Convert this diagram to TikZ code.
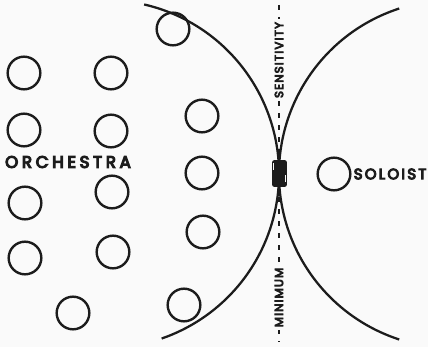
\documentclass[tikz,border=0pt]{standalone}
\usepackage{fontspec}
\newfontfamily\labelfont{Poppins}[FakeBold=7]
\usetikzlibrary{positioning}
\definecolor{inkgray}{RGB}{28, 28, 28}
\definecolor{paper}{RGB}{250, 250, 250}
\tikzset{
    seat/.style={
        circle,
        draw=inkgray,
        line width=1.8pt,
        minimum size=24.5pt,
        inner sep=0pt
    },
    pickup/.style={
        rectangle,
        rounded corners=1.5pt,
        fill=inkgray,
        minimum width=11pt,
        minimum height=20pt,
        inner sep=0pt
    },
    fieldline/.style={
        draw=inkgray,
        line width=1.7pt
    },
    % dashed axis and its words
    axisline/.style={
        draw=inkgray,
        line width=1.7pt,
        dash pattern=on 3.8pt off 5.2pt
    },
    axislabel/.style={
        rotate=90,
        fill=paper,
        inner xsep=2pt,
        inner ysep=1pt,
        text=inkgray,
        font=\labelfont\fontsize{8.8}{10}\selectfont\addfontfeatures{LetterSpace=10}
    },
    grouplabel/.style={
        text=inkgray,
        inner sep=0pt
    }
}

\begin{document}
\begin{tikzpicture}[x=0.75pt, y=0.75pt]
\fill[paper] (0,0) rectangle (428,347);
\useasboundingbox (0,0) rectangle (428,347);

% axis of minimum sensitivity
\coordinate (axtop) at (279,342);
\coordinate (axbot) at (279,5);
\draw[axisline] (axtop) -- (axbot);
\node[axislabel] (sens) at (279,287) {SENSITIVITY};
\node[axislabel] (mini) at (279,49.5) {MINIMUM};

% pick-up pattern
\draw[fieldline] (105,173) ++(77:174) arc[start angle=77, end angle=-71, radius=174];
\draw[fieldline] (453,173) ++(108:174) arc[start angle=108, end angle=252, radius=174];

% microphone
\node[pickup] (mic) at (279.5,173.5) {};
\draw[paper, line width=0.8pt] ([xshift=1.2pt, yshift=-2.3pt]mic.north west) -- ++(0,-5.2pt);
\draw[paper, line width=0.8pt] ([xshift=-1.5pt, yshift=3.7pt]mic.south east) -- ++(0,5.2pt);

% orchestra
\node[seat] (ol1) at (24,274) {};
\node[seat] (ol2) at (24,217) {};
\node[seat] (ol3) at (25,144) {};
\node[seat] (ol4) at (25,89) {};
\node[seat] (om1) at (111,274) {};
\node[seat] (om2) at (111,216) {};
\node[seat] (om3) at (112,155) {};
\node[seat] (om4) at (113,95) {};
\node[seat] (ob) at (73,34) {};
\node[seat] (or0) at (173,318) {};
\node[seat] (or1) at (202,231) {};
\node[seat] (or2) at (202,174) {};
\node[seat] (or3) at (203,115) {};
\node[seat] (or4) at (184,42) {};
\node[grouplabel, font=\labelfont\fontsize{12.5}{14}\selectfont\addfontfeatures{LetterSpace=22}] (orch) at (68,185) {ORCHESTRA};

% soloist
\node[seat] (solo) at (334,173) {};
\node[grouplabel, right=1.5pt of solo, font=\labelfont\fontsize{11.2}{12}\selectfont\addfontfeatures{LetterSpace=15}] (solotext) {SOLOIST};
\end{tikzpicture}
\end{document}
